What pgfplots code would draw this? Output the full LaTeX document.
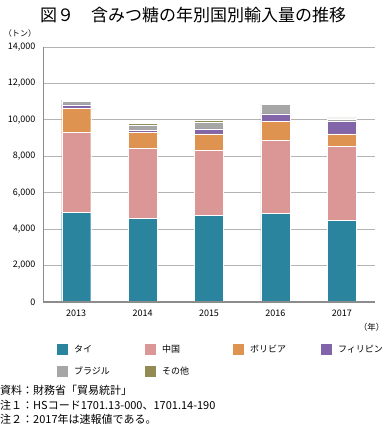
\documentclass[border=0pt]{standalone}
\usepackage{pgfplots}
\pgfplotsset{compat=1.18}
\usepackage{fontspec}
\setmainfont{Noto Sans CJK JP}
\definecolor{cThai}{HTML}{2B849E}
\definecolor{cChina}{HTML}{DA9795}
\definecolor{cBol}{HTML}{DE9450}
\definecolor{cPhil}{HTML}{8264A8}
\definecolor{cBra}{HTML}{A6A6A6}
\definecolor{cOth}{HTML}{948A54}
\definecolor{axgray}{HTML}{8C8C8C}
\definecolor{gridgray}{HTML}{B4B4B4}
\begin{document}
\begin{tikzpicture}
\path[use as bounding box] (0,0) rectangle (388pt,-425pt);
\node[font=\fontsize{17}{20}\selectfont] at (193pt,-15pt) {図９　含みつ糖の年別国別輸入量の推移};
\node[font=\fontsize{8}{10}\selectfont] at (20pt,-33pt) {（トン）};
\begin{axis}[
  name=ax,
  at={(43pt,-302pt)}, anchor=south west,
  scale only axis, width=332pt, height=255pt,
  ybar stacked, bar width=29pt,
  xmin=2012.5, xmax=2017.5, ymin=0, ymax=14000,
  xtick={2013,2014,2015,2016,2017},
  major x tick style={draw=none},
  extra x ticks={2012.5,2013.5,2014.5,2015.5,2016.5,2017.5},
  extra x tick labels={},
  extra x tick style={grid=none, tick align=outside, major tick length=2.5pt, tick style={draw=gridgray, line width=0.8pt}},
  ytick={0,2000,...,14000},
  ymajorgrids, grid style={color=gridgray, line width=0.8pt},
  major y tick style={draw=none},
  axis x line*=bottom, axis y line*=left,
  x axis line style={color=axgray, line width=1.5pt, -},
  y axis line style={color=axgray, line width=0.7pt, -},
  scaled y ticks=false, scaled x ticks=false,
  /pgf/number format/.cd, 1000 sep={,}, assume math mode=true,
  /pgfplots/.cd,
  xticklabel style={/pgf/number format/1000 sep={}},
  ticklabel style={font=\fontsize{9}{10}\selectfont},
  x tick label style={yshift=-4pt},
  y tick label style={xshift=-4pt},
  legend columns=4,
  legend style={at={(0.033,-0.155)}, anchor=north west, draw=none, fill=none,
    column sep=0pt, row sep=11pt,
    nodes={inner sep=0pt, font=\fontsize{9}{11}\selectfont}},
  legend image code/.code={\fill[#1, draw=none] (0pt,-5.5pt) rectangle (11pt,5.5pt);},
]
\addplot[fill=cThai, draw=white, line width=0.3pt] coordinates {(2013,4930) (2014,4590) (2015,4770) (2016,4860) (2017,4475)};
\addlegendentry{\hspace{6pt}\makebox[71pt][l]{タイ}}
\addplot[fill=cChina, draw=white, line width=0.3pt] coordinates {(2013,4390) (2014,3850) (2015,3570) (2016,4000) (2017,4070)};
\addlegendentry{\hspace{6pt}\makebox[71pt][l]{中国}}
\addplot[fill=cBol, draw=white, line width=0.3pt] coordinates {(2013,1300) (2014,865) (2015,885) (2016,1070) (2017,680)};
\addlegendentry{\hspace{6pt}\makebox[71pt][l]{ボリビア}}
\addplot[fill=cPhil, draw=white, line width=0.3pt] coordinates {(2013,205) (2014,110) (2015,275) (2016,400) (2017,700)};
\addlegendentry{\hspace{6pt}\makebox[45pt][l]{フィリピン}}
\addplot[fill=cBra, draw=white, line width=0.3pt] coordinates {(2013,180) (2014,315) (2015,365) (2016,515) (2017,130)};
\addlegendentry{\hspace{6pt}\makebox[71pt][l]{ブラジル}}
\addplot[fill=cOth, draw=white, line width=0.3pt] coordinates {(2013,80) (2014,75) (2015,95) (2016,55) (2017,55)};
\addlegendentry{\hspace{6pt}\makebox[71pt][l]{その他}}
\end{axis}
\draw[color=axgray, line width=1.5pt] (ax.south west) -- (ax.south east);
\node[anchor=east, font=\fontsize{8.5}{10}\selectfont] at (388pt,-327pt) {（年）};
\node[anchor=west, inner sep=0pt, font=\fontsize{11}{13}\selectfont] at (0pt,-390pt) {資料：財務省「貿易統計」};
\node[anchor=west, inner sep=0pt, font=\fontsize{11}{13}\selectfont] at (0pt,-405pt) {注１：HSコード1701.13-000、1701.14-190};
\node[anchor=west, inner sep=0pt, font=\fontsize{11}{13}\selectfont] at (0pt,-419pt) {注２：2017年は速報値である。};
\end{tikzpicture}
\end{document}
